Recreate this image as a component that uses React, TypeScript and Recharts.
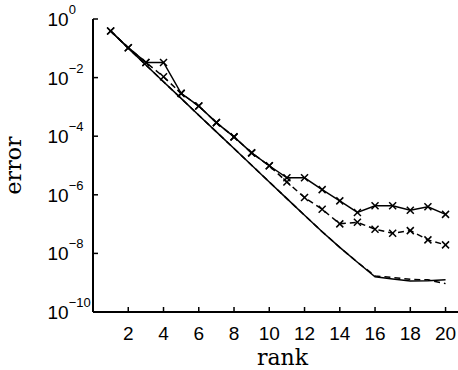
import { LineChart, Line, XAxis, YAxis } from 'recharts'

const ranks = [1, 2, 3, 4, 5, 6, 7, 8, 9, 10, 11, 12, 13, 14, 15, 16, 17, 18, 19, 20]

// solid line with x markers
const errSolidMarked = [
  3.9e-1, 1.05e-1, 3.3e-2, 3.3e-2, 2.9e-3, 1.07e-3, 2.9e-4, 9.5e-5, 2.7e-5, 9.8e-6,
  3.8e-6, 3.8e-6, 1.5e-6, 6.2e-7, 2.5e-7, 4.2e-7, 4.2e-7, 2.95e-7, 3.9e-7, 2.15e-7,
]
// dashed line with x markers
const errDashedMarked = [
  3.9e-1, 1.05e-1, 3.3e-2, 1.07e-2, 2.9e-3, 1.07e-3, 2.9e-4, 9.5e-5, 2.7e-5, 9.8e-6,
  2.75e-6, 8.1e-7, 3.2e-7, 1.02e-7, 1.15e-7, 6.7e-8, 4.9e-8, 6.0e-8, 2.9e-8, 1.95e-8,
]
// plain solid line
const errSolid = [
  3.9e-1, 1.0e-1, 2.7e-2, 7.2e-3, 1.95e-3, 5.2e-4, 1.4e-4, 3.8e-5, 1.02e-5, 2.75e-6,
  7.4e-7, 2.0e-7, 5.5e-8, 1.6e-8, 5.0e-9, 1.6e-9, 1.35e-9, 1.15e-9, 1.17e-9, 1.25e-9,
]
// plain dashed line
const errDashed = [
  3.9e-1, 1.0e-1, 2.7e-2, 7.2e-3, 1.95e-3, 5.2e-4, 1.4e-4, 3.8e-5, 1.02e-5, 2.75e-6,
  7.4e-7, 2.0e-7, 5.5e-8, 1.6e-8, 5.0e-9, 1.7e-9, 1.5e-9, 1.3e-9, 1.25e-9, 9.3e-10,
]

const xTicks = [2, 4, 6, 8, 10, 12, 14, 16, 18, 20]
const yTicks = [1, 1e-2, 1e-4, 1e-6, 1e-8, 1e-10]

const data = ranks.map((r, i) => ({
  rank: r,
  a: errSolidMarked[i],
  b: errDashedMarked[i],
  c: errSolid[i],
  d: errDashed[i],
}))

const sans = '"Liberation Sans", Arial, Helvetica, sans-serif'
const serif = '"DejaVu Serif", "Liberation Serif", serif'

const Cross = (props: any) => {
  const { cx, cy } = props
  if (cx == null || cy == null) return null
  const s = 3.5
  return (
    <g stroke="#000" strokeWidth={1.5} strokeDasharray="none">
      <line x1={cx - s} y1={cy - s} x2={cx + s} y2={cy + s} />
      <line x1={cx - s} y1={cy + s} x2={cx + s} y2={cy - s} />
    </g>
  )
}

const BottomTick = (props: any) => {
  const { x, y, payload } = props
  return (
    <g>
      <line x1={x} x2={x} y1={y} y2={y - 5} stroke="#000" strokeWidth={1.5} />
      <text x={x} y={y + 28} textAnchor="middle" fontSize={19} fontFamily={sans} fill="#000">
        {payload.value}
      </text>
    </g>
  )
}

const TopTick = (props: any) => {
  const { x, y } = props
  return <line x1={x} x2={x} y1={y} y2={y + 4} stroke="#000" strokeWidth={1.5} />
}

const LeftTick = (props: any) => {
  const { x, y, payload } = props
  const exp = Math.round(Math.log10(payload.value))
  const expText = exp < 0 ? '\u2212' + Math.abs(exp) : String(exp)
  return (
    <g>
      <line x1={x} x2={x + 5} y1={y} y2={y} stroke="#000" strokeWidth={1.5} />
      <text x={x - 45.5} y={y + 7} fontSize={19} fontFamily={sans} fill="#000">
        10
        <tspan dy={-12} fontSize={13}>
          {expText}
        </tspan>
      </text>
    </g>
  )
}

export default function App() {
  return (
    <div
      style={{
        position: 'absolute',
        left: 0,
        top: 0,
        width: 458,
        height: 370,
        overflow: 'hidden',
        background: '#fff',
      }}
    >
      <LineChart width={480} height={370} data={data} margin={{ top: 19, right: 8, left: 0, bottom: 0 }}>
        <XAxis
          xAxisId="top"
          orientation="top"
          type="number"
          dataKey="rank"
          domain={[0, 21.5]}
          ticks={xTicks}
          interval={0}
          height={0}
          tickSize={0}
          tickMargin={0}
          tick={<TopTick />}
          axisLine={{ stroke: '#000', strokeWidth: 2 }}
          allowDataOverflow
        />
        <XAxis
          type="number"
          dataKey="rank"
          domain={[0, 21.5]}
          ticks={xTicks}
          interval={0}
          height={58}
          tickSize={0}
          tickMargin={0}
          tick={<BottomTick />}
          axisLine={{ stroke: '#000', strokeWidth: 2 }}
          allowDataOverflow
          label={{
            content: (p: any) => {
              const vb = p.viewBox
              return (
                <text
                  x={vb.x + vb.width / 2}
                  y={vb.y + 53}
                  textAnchor="middle"
                  fontSize={22}
                  fontFamily={serif}
                  fill="#000"
                >
                  rank
                </text>
              )
            },
          }}
        />
        <YAxis
          type="number"
          scale="log"
          domain={[1e-10, 1]}
          ticks={yTicks}
          interval={0}
          width={93}
          tickSize={0}
          tickMargin={0}
          tick={<LeftTick />}
          axisLine={{ stroke: '#000', strokeWidth: 2 }}
          allowDataOverflow
          label={{
            content: (p: any) => {
              const vb = p.viewBox
              const cx = vb.x + 21
              const cy = vb.y + vb.height / 2
              return (
                <text
                  x={cx}
                  y={cy}
                  transform={`rotate(-90 ${cx} ${cy})`}
                  textAnchor="middle"
                  fontSize={22}
                  fontFamily={serif}
                  fill="#000"
                >
                  error
                </text>
              )
            },
          }}
        />
        <Line
          type="linear"
          dataKey="d"
          stroke="#000"
          strokeWidth={1.5}
          strokeDasharray="6 4"
          dot={false}
          activeDot={false}
          isAnimationActive={false}
        />
        <Line
          type="linear"
          dataKey="c"
          stroke="#000"
          strokeWidth={1.5}
          dot={false}
          activeDot={false}
          isAnimationActive={false}
        />
        <Line
          type="linear"
          dataKey="b"
          stroke="#000"
          strokeWidth={1.5}
          strokeDasharray="6 4"
          dot={<Cross />}
          activeDot={false}
          isAnimationActive={false}
        />
        <Line
          type="linear"
          dataKey="a"
          stroke="#000"
          strokeWidth={1.5}
          dot={<Cross />}
          activeDot={false}
          isAnimationActive={false}
        />
      </LineChart>
    </div>
  )
}
